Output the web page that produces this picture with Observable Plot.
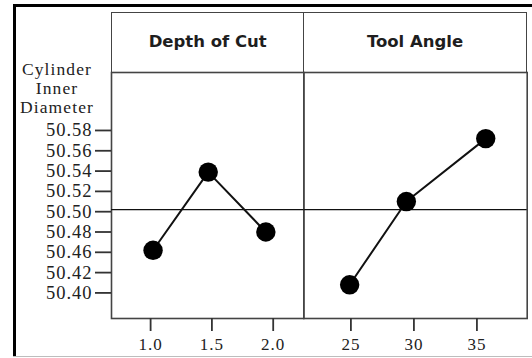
<!DOCTYPE html>
<html>
<head>
<meta charset="utf-8">
<script src="https://cdn.jsdelivr.net/npm/d3@7"></script>
<script src="https://cdn.jsdelivr.net/npm/@observablehq/plot@0.6"></script>
<style>
  html, body { margin: 0; padding: 0; background: #fff; }
  #chart { position: relative; width: 532px; height: 358px; overflow: hidden; background: #fff; }
  #chart svg { position: absolute; left: 0; top: 0; background: transparent; overflow: visible; }
  .bar { position: absolute; background: #000; }
  #header { position: absolute; left: 111px; top: 12px; width: 415.7px; height: 60.5px; box-sizing: border-box;
            border: 1.6px solid #444; border-bottom: none; display: flex; }
  #header div { display: flex; align-items: center; justify-content: center; box-sizing: border-box;
                font-family: "DejaVu Sans", sans-serif; font-weight: bold; font-size: 16.5px; color: #1e1e1e; padding-bottom: 3px; }
  #ytitle { position: absolute; left: 17px; top: 60px; width: 80px; text-align: center;
            font-family: "Liberation Serif", serif; font-size: 17.5px; line-height: 19px; letter-spacing: 1.1px; color: #222; }
</style>
</head>
<body>
<div id="chart"></div>
<script>
// ---- data ----
const panelTitles = ["Depth of Cut", "Tool Angle"];
const yTitle = ["Cylinder", "Inner", "Diameter"];
const depthX = [1.02, 1.47, 1.94];
const depthY = [50.462, 50.539, 50.480];
const angleX = [24.9, 29.4, 35.7];
const angleY = [50.428, 50.510, 50.572];
const grandMean = 50.502;
const depthTicks = [1.0, 1.5, 2.0];
const angleTicks = [25, 30, 35];
const yTickValues = [50.42, 50.44, 50.46, 50.48, 50.50, 50.52, 50.54, 50.56, 50.58];
const yTickLabels = ["50.40", "50.42", "50.46", "50.48", "50.50", "50.52", "50.54", "50.56", "50.58"];

const depth = depthX.map((x, i) => ({x, y: depthY[i]}));
const angle = angleX.map((x, i) => ({x, y: angleY[i]}));
const yLabel = new Map(yTickValues.map((v, i) => [v, yTickLabels[i]]));

const W = 532, H = 358;
const yDomain = [50.3948, 50.6371];
const ink = "#222";
const frameColor = "#444";

const chart = document.getElementById("chart");

// outer decoration
function bar(l, t, w, h, c) {
  const d = document.createElement("div");
  d.className = "bar";
  Object.assign(d.style, {left: l + "px", top: t + "px", width: w + "px", height: h + "px"});
  if (c) d.style.background = c;
  chart.appendChild(d);
}
bar(13, 4, 2.6, 353);
bar(13, 4, 519, 2.6);
bar(13, 355.5, 519, 1.2, "#bdbdbd");

// header strip
const header = document.createElement("div");
header.id = "header";
panelTitles.forEach((t, i) => {
  const c = document.createElement("div");
  c.textContent = t;
  c.style.width = i === 0 ? "192.3px" : "223.4px";
  if (i === 1) c.style.borderLeft = "1.6px solid " + frameColor;
  header.appendChild(c);
});
chart.appendChild(header);

// y title
const yt = document.createElement("div");
yt.id = "ytitle";
yt.innerHTML = yTitle.join("<br>");
chart.appendChild(yt);

function panel(data, xDomain, xTicks, fmt, mLeft, mRight, withY) {
  const marks = [
    Plot.frame({stroke: frameColor, strokeWidth: 1.6}),
    Plot.ruleY([grandMean], {stroke: "#111", strokeWidth: 1.2}),
    Plot.line(data, {x: "x", y: "y", stroke: "#111", strokeWidth: 2}),
    Plot.dot(data, {x: "x", y: "y", r: 9.7, fill: "#000", stroke: null}),
    Plot.axisX(xTicks, {tickSize: 13, tickPadding: 6, tickFormat: fmt, fontSize: 17,
                        stroke: "#333", strokeWidth: 1.8, color: ink, label: null})
  ];
  if (withY) {
    marks.push(Plot.axisY(yTickValues, {tickSize: 16, tickPadding: 3, tickFormat: d => yLabel.get(d),
                                       fontSize: 18.5, stroke: "#333", strokeWidth: 1.8, color: ink, label: null}));
  }
  return Plot.plot({
    width: W, height: H,
    marginLeft: mLeft, marginRight: mRight, marginTop: 72, marginBottom: 40,
    x: {domain: xDomain, axis: null},
    y: {domain: yDomain, axis: withY ? undefined : null},
    style: {fontFamily: "Liberation Serif, serif", letterSpacing: "1px", background: "transparent", overflow: "visible", color: ink},
    marks
  });
}

chart.appendChild(panel(depth, [0.681, 2.2496], depthTicks, d3.format(".1f"), 111, W - 303.3, true));
chart.appendChild(panel(angle, [21.262, 38.99], angleTicks, d3.format("d"), 303.3, W - 526.7, false));
</script>
</body>
</html>
